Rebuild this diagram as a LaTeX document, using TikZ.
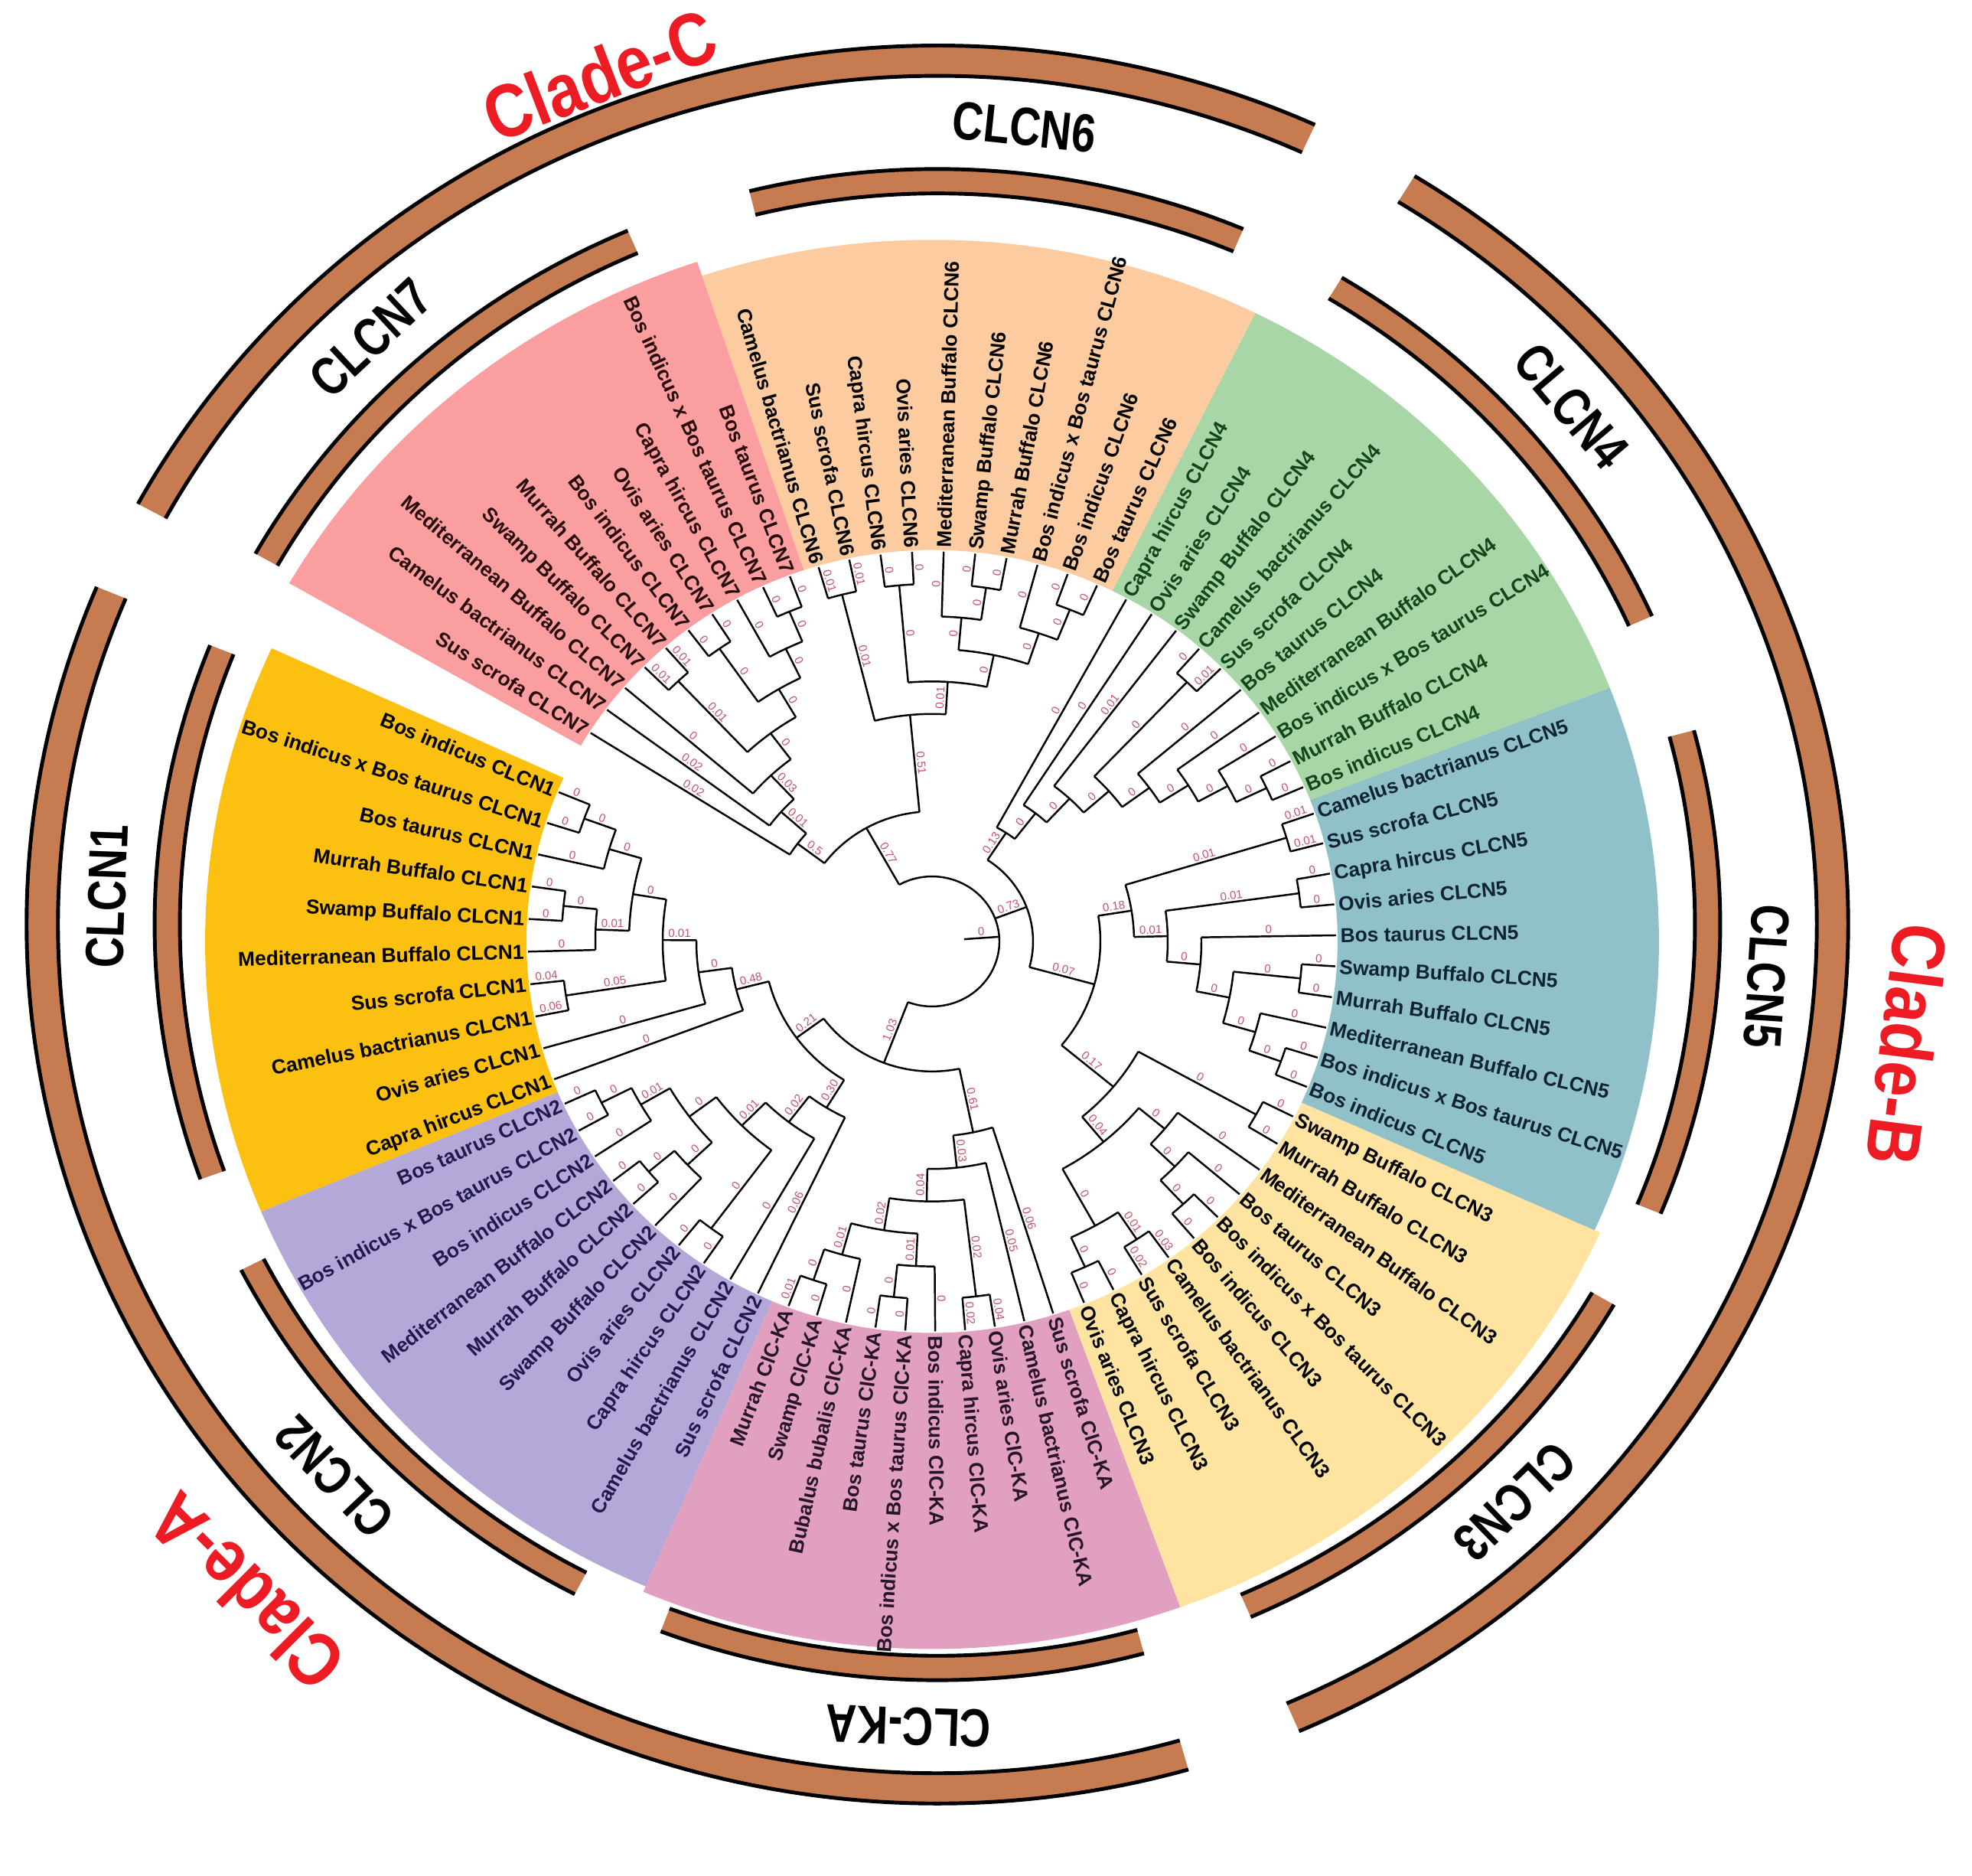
\documentclass[tikz,border=0pt]{standalone}
\usepackage{fontspec}
\setmainfont{Liberation Sans}
\usepackage{graphicx}

% range colours
\definecolor{rgN1}{RGB}{252,192,16}
\definecolor{rgN2}{RGB}{180,168,216}
\definecolor{rgKA}{RGB}{226,160,192}
\definecolor{rgN3}{RGB}{254,228,160}
\definecolor{rgN5}{RGB}{144,192,200}
\definecolor{rgN4}{RGB}{168,214,166}
\definecolor{rgN6}{RGB}{252,204,160}
\definecolor{rgN7}{RGB}{250,158,160}
\definecolor{labN2}{RGB}{35,25,80}
\definecolor{labKA}{RGB}{40,20,40}
\definecolor{labN5}{RGB}{15,35,55}
\definecolor{labN4}{RGB}{20,70,30}
\definecolor{labN7}{RGB}{40,10,10}
\definecolor{bandbrown}{RGB}{198,124,80}
\definecolor{bllab}{RGB}{196,84,104}
\definecolor{cladered}{RGB}{237,28,36}

\tikzset{
  branch/.style={line width=0.7pt, black},
  leaflab/.style={font=\bfseries\fontsize{7.5}{8}\selectfont, inner sep=0pt},
  blab/.style={font=\fontsize{4.3}{5}\selectfont, text=bllab, inner sep=0.6pt, anchor=south},
  bandfill/.style={fill=bandbrown},
  bandline/.style={line width=1.4pt, black},
  grouplab/.style={font=\bfseries\fontsize{20}{22}\selectfont, inner sep=0pt},
  cladelab/.style={font=\bfseries\fontsize{28}{30}\selectfont, text=cladered, inner sep=0pt},
}

\newcommand\rleaf{5.28}
% text angle and side for a radial direction
\newcommand\setrot[1]{%
  \pgfmathsetmacro\rmod{mod(#1,360)}%
  \def\side{west}\pgfmathsetmacro\lrot{#1}%
  \ifdim\rmod pt>90pt\relax
    \ifdim\rmod pt<270pt\relax
      \def\side{east}\pgfmathsetmacro\lrot{#1+180}%
    \fi
  \fi}
% leaf: name, angle, text, colour
\newcommand\tleaf[4]{%
  \expandafter\xdef\csname ta@#1\endcsname{#2}%
  \coordinate (#1) at (#2:\rleaf);
  \setrot{#2}\edef\anc{mid \side}%
  \node[leaflab, text=#4, anchor=\anc, rotate=\lrot] (l#1) at (#2:5.33) {#3};
}
% group of leaves: prefix, start angle, step, colour, suffix, list
\newcommand\tgroup[6]{%
  \foreach \lname/\ltext [count=\li from 0] in {#6}{%
    \pgfmathsetmacro\lvang{#2+#3*\li}%
    \tleaf{#1\lname}{\lvang}{\ltext\ #5}{#4}%
  }}
% inner node: name, level, children child/length
\newcommand\tjoin[3]{%
  \pgfmathsetmacro\jr{\rleaf-0.44*#2}%
  \foreach \cn/\bl [count=\ci] in {#3}{%
    \ifnum\ci=1 \xdef\jfirst{\csname ta@\cn\endcsname}\fi
    \xdef\jlast{\csname ta@\cn\endcsname}%
  }%
  \pgfmathsetmacro\jmid{(\jfirst+\jlast)/2}%
  \draw[branch] (\jfirst:\jr) arc[start angle=\jfirst, end angle=\jlast, radius=\jr];
  \foreach \cn/\bl in {#3}{%
    \edef\ca{\csname ta@\cn\endcsname}%
    \setrot{\ca}%
    \draw[branch] (\ca:\jr) -- (\cn) node[blab, midway, rotate=\lrot] {\bl};
  }%
  \coordinate (#1) at (\jmid:\jr);
  \expandafter\xdef\csname ta@#1\endcsname{\jmid}%
}
% coloured range: a1, a2, r in, r out, colour
\newcommand\trange[5]{%
  \fill[#5] (#1:#3) arc[start angle=#1, end angle=#2, radius=#3] -- (#2:#4)
    arc[start angle=#2, end angle=#1, radius=#4] -- cycle;}
% brown band: a1, a2, r in, r out
\newcommand\tband[4]{%
  \fill[bandfill] (#1:#3) arc[start angle=#1, end angle=#2, radius=#3] -- (#2:#4)
    arc[start angle=#2, end angle=#1, radius=#4] -- cycle;
  \draw[bandline] (#1:#3) arc[start angle=#1, end angle=#2, radius=#3];
  \draw[bandline] (#1:#4) arc[start angle=#1, end angle=#2, radius=#4];}

\begin{document}
\begin{tikzpicture}
\useasboundingbox (-12.25,-12.43) rectangle (13.52,12.08);

% rings
\begin{scope}[yscale=0.965]
  \tband{65.5}{151.4}{11.49}{11.90}
  \tband{157.4}{286}{11.49}{11.90}
  \tband{293.4}{418.4}{11.49}{11.90}
  \tband{67}{103.9}{9.90}{10.23}
  \tband{113.3}{150.6}{9.90}{10.23}
  \tband{158.3}{199.7}{9.90}{10.23}
  \tband{207.2}{242.4}{9.90}{10.23}
  \tband{249.3}{285.3}{9.90}{10.23}
  \tband{293.6}{329.8}{9.90}{10.23}
  \tband{337.5}{374.9}{9.90}{10.23}
  \tband{24.1}{58.9}{9.90}{10.23}
  \node[grouplab, rotate=-6] (gN6) at (84:10.86) {\scalebox{0.8}[1]{CLCN6}};
  \node[grouplab, rotate=43] (gN7) at (133:10.86) {\scalebox{0.8}[1]{CLCN7}};
  \node[grouplab, rotate=88] (gN1) at (178:10.86) {\scalebox{0.8}[1]{CLCN1}};
  \node[grouplab, rotate=133.5] (gN2) at (223.5:10.86) {\scalebox{0.8}[1]{CLCN2}};
  \node[grouplab, rotate=178] (gKA) at (268:10.86) {\scalebox{0.8}[1]{CLC-KA}};
  \node[grouplab, rotate=224] (gN3) at (314:10.86) {\scalebox{0.8}[1]{CLCN3}};
  \node[grouplab, rotate=-93.7] (gN5) at (-3.7:10.86) {\scalebox{0.8}[1]{CLCN5}};
  \node[grouplab, rotate=-49.7] (gN4) at (40.3:10.86) {\scalebox{0.8}[1]{CLCN4}};
  \node[cladelab, rotate=21] (clC) at (111:12.32) {\scalebox{0.85}[1]{Clade-C}};
  \node[cladelab, rotate=135] (clA) at (225:12.78) {\scalebox{0.85}[1]{Clade-A}};
  \node[cladelab, rotate=-97.3] (clB) at (-7.3:12.78) {\scalebox{0.85}[1]{Clade-B}};
\end{scope}

% tree
\begin{scope}[shift={(-0.07,-0.22)}, yscale=0.965]
  \trange{155.3}{202.65}{5.30}{9.50}{rgN1}
  \trange{202.65}{246.8}{5.30}{9.50}{rgN2}
  \trange{246.8}{289.8}{5.30}{9.58}{rgKA}
  \trange{289.8}{335.7}{5.30}{9.58}{rgN3}
  \trange{335.7}{381.2}{5.30}{9.50}{rgN5}
  \trange{381.2}{423.6}{5.30}{9.50}{rgN4}
  \trange{423.6}{468.45}{5.30}{9.50}{rgN6}
  \trange{468.45}{510}{5.30}{9.70}{rgN7}

  \tgroup{n1}{157.5}{4.8}{black}{CLCN1}{BI/Bos indicus,BX/Bos indicus x Bos taurus,BT/Bos taurus,Mu/Murrah Buffalo,Sw/Swamp Buffalo,Me/Mediterranean Buffalo,Su/Sus scrofa,Ca/Camelus bactrianus,Ov/Ovis aries,Cp/Capra hircus}
  \tgroup{n2}{204.6}{4.43}{labN2}{CLCN2}{BT/Bos taurus,BX/Bos indicus x Bos taurus,BI/Bos indicus,Me/Mediterranean Buffalo,Mu/Murrah Buffalo,Sw/Swamp Buffalo,Ov/Ovis aries,Cp/Capra hircus,Ca/Camelus bactrianus,Su/Sus scrofa}
  \tgroup{ka}{249.2}{4.25}{labKA}{ClC-KA}{Mu/Murrah,Sw/Swamp,Bb/Bubalus bubalis,BT/Bos taurus,BX/Bos indicus x Bos taurus,BI/Bos indicus,Cp/Capra hircus,Ov/Ovis aries,Ca/Camelus bactrianus,Su/Sus scrofa}
  \tgroup{n3}{292.1}{4.58}{black}{CLCN3}{Ov/Ovis aries,Cp/Capra hircus,Su/Sus scrofa,Ca/Camelus bactrianus,BI/Bos indicus,BX/Bos indicus x Bos taurus,BT/Bos taurus,Me/Mediterranean Buffalo,Mu/Murrah Buffalo,Sw/Swamp Buffalo}
  \tgroup{n5}{338.1}{4.56}{labN5}{CLCN5}{BI/Bos indicus,BX/Bos indicus x Bos taurus,Me/Mediterranean Buffalo,Mu/Murrah Buffalo,Sw/Swamp Buffalo,BT/Bos taurus,Ov/Ovis aries,Cp/Capra hircus,Su/Sus scrofa,Ca/Camelus bactrianus}
  \tgroup{n4}{383.3}{4.22}{labN4}{CLCN4}{BI/Bos indicus,Mu/Murrah Buffalo,BX/Bos indicus x Bos taurus,Me/Mediterranean Buffalo,BT/Bos taurus,Su/Sus scrofa,Ca/Camelus bactrianus,Sw/Swamp Buffalo,Ov/Ovis aries,Cp/Capra hircus}
  \tgroup{n6}{425.9}{4.49}{black}{CLCN6}{BT/Bos taurus,BI/Bos indicus,BX/Bos indicus x Bos taurus,Mu/Murrah Buffalo,Sw/Swamp Buffalo,Me/Mediterranean Buffalo,Ov/Ovis aries,Cp/Capra hircus,Su/Sus scrofa,Ca/Camelus bactrianus}
  \tgroup{n7}{470.6}{4.12}{labN7}{CLCN7}{BT/Bos taurus,BX/Bos indicus x Bos taurus,Cp/Capra hircus,Ov/Ovis aries,BI/Bos indicus,Mu/Murrah Buffalo,Sw/Swamp Buffalo,Me/Mediterranean Buffalo,Ca/Camelus bactrianus,Su/Sus scrofa}

  % CLCN1
  \tjoin{n1a}{1}{n1BI/0,n1BX/0}
  \tjoin{n1b}{2}{n1a/0,n1BT/0}
  \tjoin{n1c}{1}{n1Mu/0,n1Sw/0}
  \tjoin{n1d}{2}{n1c/0,n1Me/0}
  \tjoin{n1e}{3}{n1b/0,n1d/0.01}
  \tjoin{n1f}{1}{n1Su/0.04,n1Ca/0.06}
  \tjoin{n1g}{4}{n1e/0,n1f/0.05}
  \tjoin{n1h}{5}{n1g/0.01,n1Ov/0}
  \tjoin{n1}{6}{n1h/0,n1Cp/0}
  % CLCN2
  \tjoin{n2a}{1}{n2BT/0,n2BX/0}
  \tjoin{n2b}{2}{n2a/0,n2BI/0}
  \tjoin{n2c}{1}{n2Me/0,n2Mu/0}
  \tjoin{n2d}{2}{n2c/0,n2Sw/0}
  \tjoin{n2e}{3}{n2b/0.01,n2d/0}
  \tjoin{n2f}{1}{n2Ov/0,n2Cp/0}
  \tjoin{n2g}{4}{n2e/0,n2f/0}
  \tjoin{n2h}{5}{n2g/0.01,n2Ca/0}
  \tjoin{n2}{6}{n2h/0.02,n2Su/0.06}
  % CLC-KA
  \tjoin{kaa}{1}{kaMu/0.01,kaSw/0}
  \tjoin{kab}{2}{kaa/0,kaBb/0}
  \tjoin{kac}{1}{kaBT/0,kaBX/0}
  \tjoin{kad}{2}{kac/0,kaBI/0}
  \tjoin{kae}{3}{kab/0.01,kad/0.01}
  \tjoin{kaf}{1}{kaCp/0.02,kaOv/0.04}
  \tjoin{kag}{4}{kae/0.02,kaf/0.02}
  \tjoin{kah}{5}{kag/0.04,kaCa/0.05}
  \tjoin{ka}{6}{kah/0.03,kaSu/0.06}
  % CLCN3
  \tjoin{n3a}{1}{n3Ov/0,n3Cp/0}
  \tjoin{n3b}{1}{n3Su/0.02,n3Ca/0.03}
  \tjoin{n3c}{2}{n3a/0,n3b/0.01}
  \tjoin{n3d}{1}{n3BI/0,n3BX/0}
  \tjoin{n3e}{2}{n3d/0,n3BT/0}
  \tjoin{n3v}{3}{n3e/0,n3Me/0}
  \tjoin{n3w}{4}{n3c/0,n3v/0}
  \tjoin{n3f}{1}{n3Mu/0,n3Sw/0}
  \tjoin{n3}{5}{n3w/0.04,n3f/0}
  % CLCN5
  \tjoin{n5a}{1}{n5BI/0,n5BX/0}
  \tjoin{n5b}{2}{n5a/0,n5Me/0}
  \tjoin{n5c}{1}{n5Mu/0,n5Sw/0}
  \tjoin{n5d}{3}{n5b/0,n5c/0}
  \tjoin{n5e}{4}{n5d/0,n5BT/0}
  \tjoin{n5f}{1}{n5Ov/0,n5Cp/0}
  \tjoin{n5g}{5}{n5e/0,n5f/0.01}
  \tjoin{n5h}{1}{n5Su/0.01,n5Ca/0.01}
  \tjoin{n5}{6}{n5g/0.01,n5h/0.01}
  % CLCN4
  \tjoin{n4a}{1}{n4BI/0,n4Mu/0}
  \tjoin{n4b}{2}{n4a/0,n4BX/0}
  \tjoin{n4c}{3}{n4b/0,n4Me/0}
  \tjoin{n4d}{4}{n4c/0,n4BT/0}
  \tjoin{n4e}{1}{n4Su/0.01,n4Ca/0}
  \tjoin{n4f}{5}{n4d/0,n4e/0}
  \tjoin{n4g}{6}{n4f/0,n4Sw/0.01}
  \tjoin{n4h}{7}{n4g/0,n4Ov/0}
  \tjoin{n4}{8}{n4h/0,n4Cp/0}
  % CLCN6
  \tjoin{n6a}{1}{n6BT/0,n6BI/0}
  \tjoin{n6b}{2}{n6a/0,n6BX/0}
  \tjoin{n6c}{1}{n6Mu/0,n6Sw/0}
  \tjoin{n6d}{2}{n6c/0,n6Me/0}
  \tjoin{n6e}{3}{n6b/0,n6d/0}
  \tjoin{n6f}{1}{n6Ov/0,n6Cp/0}
  \tjoin{n6g}{4}{n6e/0,n6f/0}
  \tjoin{n6h}{1}{n6Su/0.01,n6Ca/0.01}
  \tjoin{n6}{5}{n6g/0.01,n6h/0.01}
  % CLCN7
  \tjoin{n7a}{1}{n7BT/0,n7BX/0}
  \tjoin{n7b}{2}{n7a/0,n7Cp/0}
  \tjoin{n7c}{1}{n7Ov/0,n7BI/0}
  \tjoin{n7d}{3}{n7b/0,n7c/0}
  \tjoin{n7e}{1}{n7Mu/0.01,n7Sw/0.01}
  \tjoin{n7f}{4}{n7d/0,n7e/0.01}
  \tjoin{n7g}{5}{n7f/0,n7Me/0}
  \tjoin{n7h}{6}{n7g/0.03,n7Ca/0.02}
  \tjoin{n7}{7}{n7h/0.01,n7Su/0.02}
  % backbone
  \tjoin{cY}{7}{n1/0.48,n2/0.30}
  \tjoin{cX}{8}{cY/0.21,ka/0.61}
  \tjoin{cW}{7}{n3/0.17,n5/0.18}
  \tjoin{cZ}{9}{cW/0.07,n4/0.13}
  \tjoin{cV}{8}{n6/0.51,n7/0.5}
  \tjoin{root}{10}{cX/1.03,cZ/0.73,cV/0.77}
  \coordinate (rootin) at (\csname ta@root\endcsname:0.42);
  \draw[branch] (rootin) -- (root) node[blab, midway, rotate=\csname ta@root\endcsname] {0};
\end{scope}
\end{tikzpicture}
\end{document}
